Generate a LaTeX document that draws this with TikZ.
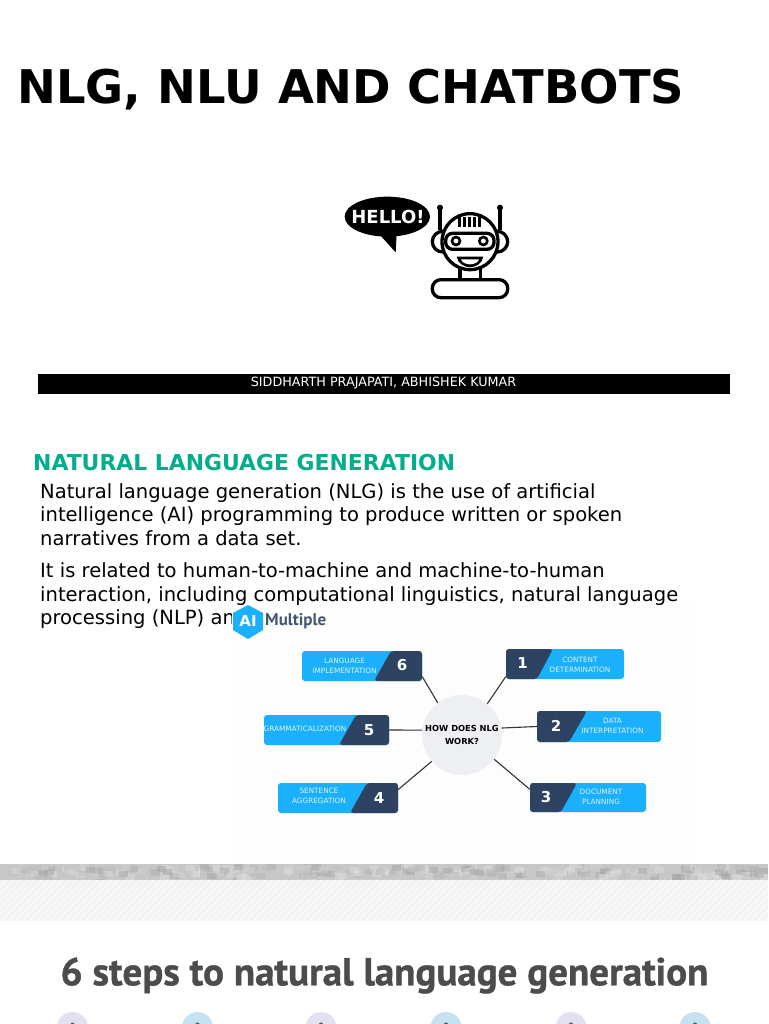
\documentclass[tikz,border=0pt]{standalone}
\usepackage{fontspec}
\setmainfont{DejaVu Sans}
\newfontfamily\stepsfont{PT Sans}
\newfontfamily\headfont[BoldFeatures={FakeBold=1}]{PT Sans}
\definecolor{stepblue}{HTML}{1AB0FB}
\definecolor{stepdark}{HTML}{2E4361}
\definecolor{hubgray}{HTML}{EDEFF3}
\definecolor{titlegreen}{HTML}{00AE8C}
\definecolor{lavender}{HTML}{E3E1F1}
\definecolor{paleblue}{HTML}{C6E2F2}
\tikzset{
    bodytext/.style={anchor=north west,inner sep=0pt,font=\fontsize{19.55}{23.4}\selectfont,align=left,text=black},
    stepbox/.style={rounded corners=3pt,fill=stepblue,inner sep=0pt},
    steptext/.style={text=white!85!stepblue,font=\fontsize{7.3}{10.2}\selectfont,align=center,inner sep=0pt},
    stepnum/.style={text=white,font=\fontsize{15}{15}\selectfont\bfseries,inner sep=0pt},
    spoke/.style={draw=black!80,line width=1.1pt},
    robot/.style={line width=3.3pt,draw=black}
}
\begin{document}
\begin{tikzpicture}[x=1pt,y=-1pt]
    \useasboundingbox (0,0) rectangle (768,1024);
    \clip (0,0) rectangle (768,1024);
    \fill[white] (0,0) rectangle (768,1024);

    % heading and name bar
    \node[anchor=west,inner sep=0pt,font=\fontsize{46.4}{46}\selectfont\bfseries] (title) at (17,90) {NLG, NLU AND CHATBOTS};
    \node[fill=black,minimum width=692pt,minimum height=20pt,inner sep=0pt] (namebar) at (384,383.5) {};
    \node[text=white,font=\fontsize{12.75}{13}\selectfont,inner sep=0pt] (names) at (383.5,383.5) {SIDDHARTH PRAJAPATI, ABHISHEK KUMAR};

    % speech bubble and robot, in 3x units
    \begin{scope}[shift={(330,180)},scale=1/3]
        \fill (172,110) ellipse (128 and 60);
        \fill (150,165) -- (197,217) -- (200,160) -- cycle;
        \node[text=white,font=\fontsize{18}{18}\selectfont\bfseries,inner sep=0pt] (hello) at (174,112) {HELLO!};
        \draw[robot] (330,85) -- (330,150);
        \draw[robot] (510,85) -- (510,150);
        \fill (330,83) circle (9);
        \fill (510,83) circle (9);
        \draw[robot] (338,185) circle (31);
        \draw[robot] (502,185) circle (31);
        \draw[robot,fill=white] (420,185) circle (84);
        \foreach \x in {388,403,418,433,448}
            \draw[line width=2.4pt] (\x,112) -- (\x,140);
        \draw[robot,rounded corners=7pt,fill=white] (347,160) rectangle (492,208);
        \draw[line width=2.6pt] (378,183) circle (12);
        \draw[line width=2.6pt] (460,183) circle (12);
        \fill (380,230) -- (460,230) .. controls (452,272) and (388,272) .. cycle;
        \fill[white] (393,238) -- (447,238) .. controls (441,258) and (399,258) .. cycle;
        \draw[robot] (390,268) -- (390,298);
        \draw[robot] (452,268) -- (452,298);
        \draw[robot,rounded corners=8.5pt] (307,299) rectangle (533,353);
    \end{scope}

    % section heading and text
    \node[anchor=west,inner sep=0pt,text=titlegreen,font=\fontsize{21.9}{22}\selectfont\bfseries] (sechead) at (33,462.5) {NATURAL LANGUAGE GENERATION};
    \node[bodytext] (para1) at (40,483.5) {Natural language generation (NLG) is the use of artificial\\intelligence (AI) programming to produce written or spoken\\narratives from a data set.};
    \node[bodytext] (para2) at (40,562.7) {It is related to human-to-machine and machine-to-human\\interaction, including computational linguistics, natural language\\processing (NLP) an};

    % pasted figure
    \fill[black!0.7] (232,606) rectangle (695,858);
    \fill[stepblue] (248,605) -- (263,613) -- (263,630) -- (248,639) -- (233,630) -- (233,613) -- cycle;
    \node[text=white,font=\fontsize{15}{15}\selectfont\bfseries,inner sep=0pt] (logoai) at (248,621.5) {AI};
    \node[anchor=west,text=stepdark!90!white,font=\stepsfont\fontsize{17}{17}\selectfont\bfseries,inner sep=0pt] (logotext) at (265,621) {Multiple};

    % center circle
    \node[circle,fill=hubgray,minimum size=80pt,inner sep=0pt] (hub) at (462,735) {};
    \node[align=center,inner sep=0pt,font=\fontsize{8.3}{12.5}\selectfont\bfseries] (hubtext) at (462,735) {HOW DOES NLG\\WORK?};

    % step boxes
    \foreach \n/\xa/\ya/\xb/\yb/\txt/\tx/\ty in {
        six/302/651/422/681/{LANGUAGE\\IMPLEMENTATION}/344.5/665.5,
        five/264/715/389/745/{GRAMMATICALIZATION}/305/729,
        four/278/783/398/813/{SENTENCE\\AGGREGATION}/319/796,
        one/506/649/624/679/{CONTENT\\DETERMINATION}/580/664.5,
        two/537/711/661/742/{DATA\\INTERPRETATION}/612.5/726,
        three/530/783/646/812/{DOCUMENT\\PLANNING}/601/796.5} {
            \node[stepbox,minimum width={(\xb-\xa)*1pt},minimum height={(\yb-\ya)*1pt}] (box\n) at ({(\xa+\xb)/2},{(\ya+\yb)/2}) {};
            \node[steptext] (label\n) at (\tx,\ty) {\txt};
    }
    \fill[stepdark,rounded corners=3pt] (506,649) -- (553,649) -- (537,679) -- (506,679) -- cycle;
    \fill[stepdark,rounded corners=3pt] (537,711) -- (587,711) -- (569,742) -- (537,742) -- cycle;
    \fill[stepdark,rounded corners=3pt] (530,783) -- (577,783) -- (561,812) -- (530,812) -- cycle;
    \fill[stepdark,rounded corners=3pt] (391,651) -- (422,651) -- (422,681) -- (374,681) -- cycle;
    \fill[stepdark,rounded corners=3pt] (356,715) -- (389,715) -- (389,745) -- (339,745) -- cycle;
    \fill[stepdark,rounded corners=3pt] (367,783) -- (398,783) -- (398,813) -- (350,813) -- cycle;
    \foreach \n/\x/\y in {1/522.5/663,2/556/726,3/546/797,4/379/798,5/369/730,6/402/665}
        \node[stepnum] (num\n) at (\x,\y) {\n};

    % spokes
    \draw[spoke] (boxsix.-10) -- (hub.127);
    \draw[spoke] (boxone.192) -- (hub.51);
    \draw[spoke] (boxfive.east) -- (hub.173);
    \draw[spoke] (boxtwo.west) -- (hub.10);
    \draw[spoke] (boxfour.8) -- (hub.221);
    \draw[spoke] (boxthree.172) -- (hub.323);

    % bands at the bottom
    \fill[black!22] (0,864) rectangle (768,880);
    \pgfmathsetseed{7}
    \foreach \i in {1,...,300} {
        \pgfmathsetmacro{\bx}{random(0,760)}
        \pgfmathsetmacro{\by}{random(864,874)}
        \pgfmathsetmacro{\bt}{random(10,38)}
        \fill[black!\bt,opacity=0.45] (\bx,\by) rectangle ++(9,6);
    }
    \fill[black!5] (0,880) rectangle (768,921);
    \foreach \x in {0,7,...,812}
        \draw[white,opacity=0.5,line width=2pt] (\x,880) -- (\x-41,921);

    % second heading
    \node[text=black!70,inner sep=0pt,font=\headfont\fontsize{39}{39}\selectfont\bfseries] (stepshead) at (384.5,975.5) {6 steps to natural language generation};
    \foreach \x/\c/\d in {72.5/lavender/1,197.5/paleblue/2,321/lavender/3,446/paleblue/4,571/lavender/5,695/paleblue/6} {
        \node[circle,fill=\c,minimum size=31pt,inner sep=0pt] (dot\d) at (\x,1027.5) {};
        \fill[\c!40!black] (\x,1024) ellipse (2 and 1.5);
    }
\end{tikzpicture}
\end{document}
